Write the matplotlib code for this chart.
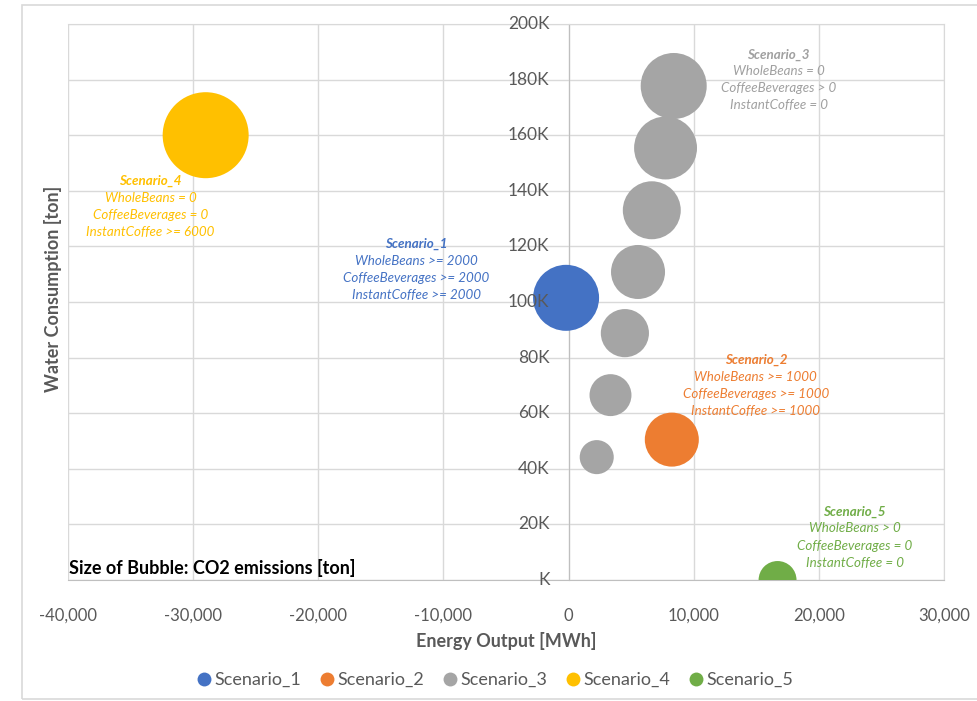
import matplotlib.pyplot as plt
import numpy as np
from matplotlib.lines import Line2D
from matplotlib.patches import Rectangle
from matplotlib.ticker import FuncFormatter, MultipleLocator

plt.rcParams['font.family'] = ['Lato', 'DejaVu Sans']

# Data: energy output [MWh], water consumption [ton], CO2 emissions [ton]
names = ['Scenario_1', 'Scenario_2', 'Scenario_3', 'Scenario_4', 'Scenario_5']
colors = ['#4472C4', '#ED7D31', '#A5A5A5', '#FFC000', '#70AD47']
text_colors = ['#4472C4', '#ED7D31', '#A0A0A0', '#FFC000', '#70AD47']

energy = [[-200], [8250], [2250, 3350, 4500, 5550, 6650, 7750, 8400], [-29000], [16700]]
water = [[101500], [50500], [44200, 66500, 88800, 110800, 133000, 155400, 177700], [160000], [0]]
co2 = [[10900], [7300], [2900, 4400, 5800, 7300, 8400, 9900, 10900], [18500], [3600]]

label_lines = [
    ['Scenario_1', 'WholeBeans >= 2000', 'CoffeeBeverages >= 2000', 'InstantCoffee >= 2000'],
    ['Scenario_2', 'WholeBeans >= 1000', 'CoffeeBeverages >= 1000', 'InstantCoffee >= 1000'],
    ['Scenario_3', 'WholeBeans = 0', 'CoffeeBeverages > 0', 'InstantCoffee = 0'],
    ['Scenario_4', 'WholeBeans = 0', 'CoffeeBeverages = 0', 'InstantCoffee >= 6000'],
    ['Scenario_5', 'WholeBeans > 0', 'CoffeeBeverages = 0', 'InstantCoffee = 0'],
]
# which bubble each label is anchored to, and offset of the label block centre (pixels)
label_anchor = [0, 0, 6, 0, 0]
label_offset = [(-150, 28), (84, 54), (105, 6), (-55, -71), (77, 43)]

fig = plt.figure(figsize=(9.78, 7.01), dpi=100)
fig.patches.append(Rectangle((22 / 978, 0.003), 1.0, (701 - 5) / 701 - 0.003,
                             transform=fig.transFigure, fill=False,
                             edgecolor='#D9D9D9', linewidth=1.2))
ax = fig.add_axes([68 / 978, 121 / 701, 876 / 978, 556 / 701])

# bubble area proportional to CO2; largest bubble ~86 px across
max_co2 = 18500
def bubble_size(v):
    diam_px = 86 * np.sqrt(np.array(v) / max_co2)
    return (diam_px * 72 / 100) ** 2

for i in range(5):
    ax.scatter(energy[i], water[i], s=bubble_size(co2[i]), color=colors[i],
               edgecolors='none', zorder=3)

for i in range(5):
    j = label_anchor[i]
    xy = (energy[i][j], water[i][j])
    dx, dy = label_offset[i]
    n = len(label_lines[i])
    for k, line in enumerate(label_lines[i]):
        ly = dy + (n - 1) / 2 * 17 - k * 17
        ax.annotate(line, xy=xy, xytext=(dx, ly), textcoords='offset pixels',
                    ha='center', va='center', fontsize=9.6, style='italic',
                    fontweight='bold' if k == 0 else 'normal',
                    color=text_colors[i], zorder=4)

ax.set_xlim(-40000, 30000)
ax.set_ylim(0, 200000)
ax.xaxis.set_major_locator(MultipleLocator(10000))
ax.yaxis.set_major_locator(MultipleLocator(20000))
ax.xaxis.set_major_formatter(FuncFormatter(lambda v, p: f'{v:,.0f}'))
ax.grid(True, color='#D9D9D9', linewidth=1, zorder=0)
ax.set_axisbelow(True)

ax.spines['left'].set_position(('data', 0))
for sp in ax.spines.values():
    sp.set_color('#D9D9D9')
ax.spines['bottom'].set_color('#BFBFBF')
ax.spines['left'].set_color('#BFBFBF')
ax.tick_params(axis='both', length=0, labelsize=12, labelcolor='#595959')
ax.tick_params(axis='x', pad=20)
ax.tick_params(axis='y', labelleft=False)

# y tick labels drawn on top of the bubbles, next to the axis at x = 0
for v in ax.get_yticks():
    if 0 <= v <= 200000:
        lab = f'{v / 1000:.0f}K' if v else 'K'
        ax.annotate(lab, xy=(0, v), xytext=(-19, 0), textcoords='offset pixels',
                    ha='right', va='center', fontsize=12.5, color='#595959', zorder=6,
                    annotation_clip=False)

ax.set_xlabel('Energy Output [MWh]', fontsize=13, fontweight='bold', color='#595959', labelpad=6)
fig.text(53 / 978, 1 - 289 / 701, 'Water Consumption [ton]', rotation=90, ha='center',
         va='center', fontsize=13, fontweight='bold', color='#595959')

ax.text(-39900, 1200, 'Size of Bubble: CO2 emissions [ton]', ha='left', va='bottom',
        fontsize=13, fontweight='bold', color='black', zorder=5)

handles = [Line2D([0], [0], marker='o', linestyle='none', markersize=10,
                  markerfacecolor=c, markeredgecolor='none') for c in colors]
fig.legend(handles, names, loc='center', bbox_to_anchor=(494 / 978, 1 - 680 / 701),
           ncol=5, frameon=False, fontsize=13, labelcolor='#595959',
           handletextpad=0.1, columnspacing=0.9, handlelength=1.0)

fig.savefig('out.png', dpi=100)
